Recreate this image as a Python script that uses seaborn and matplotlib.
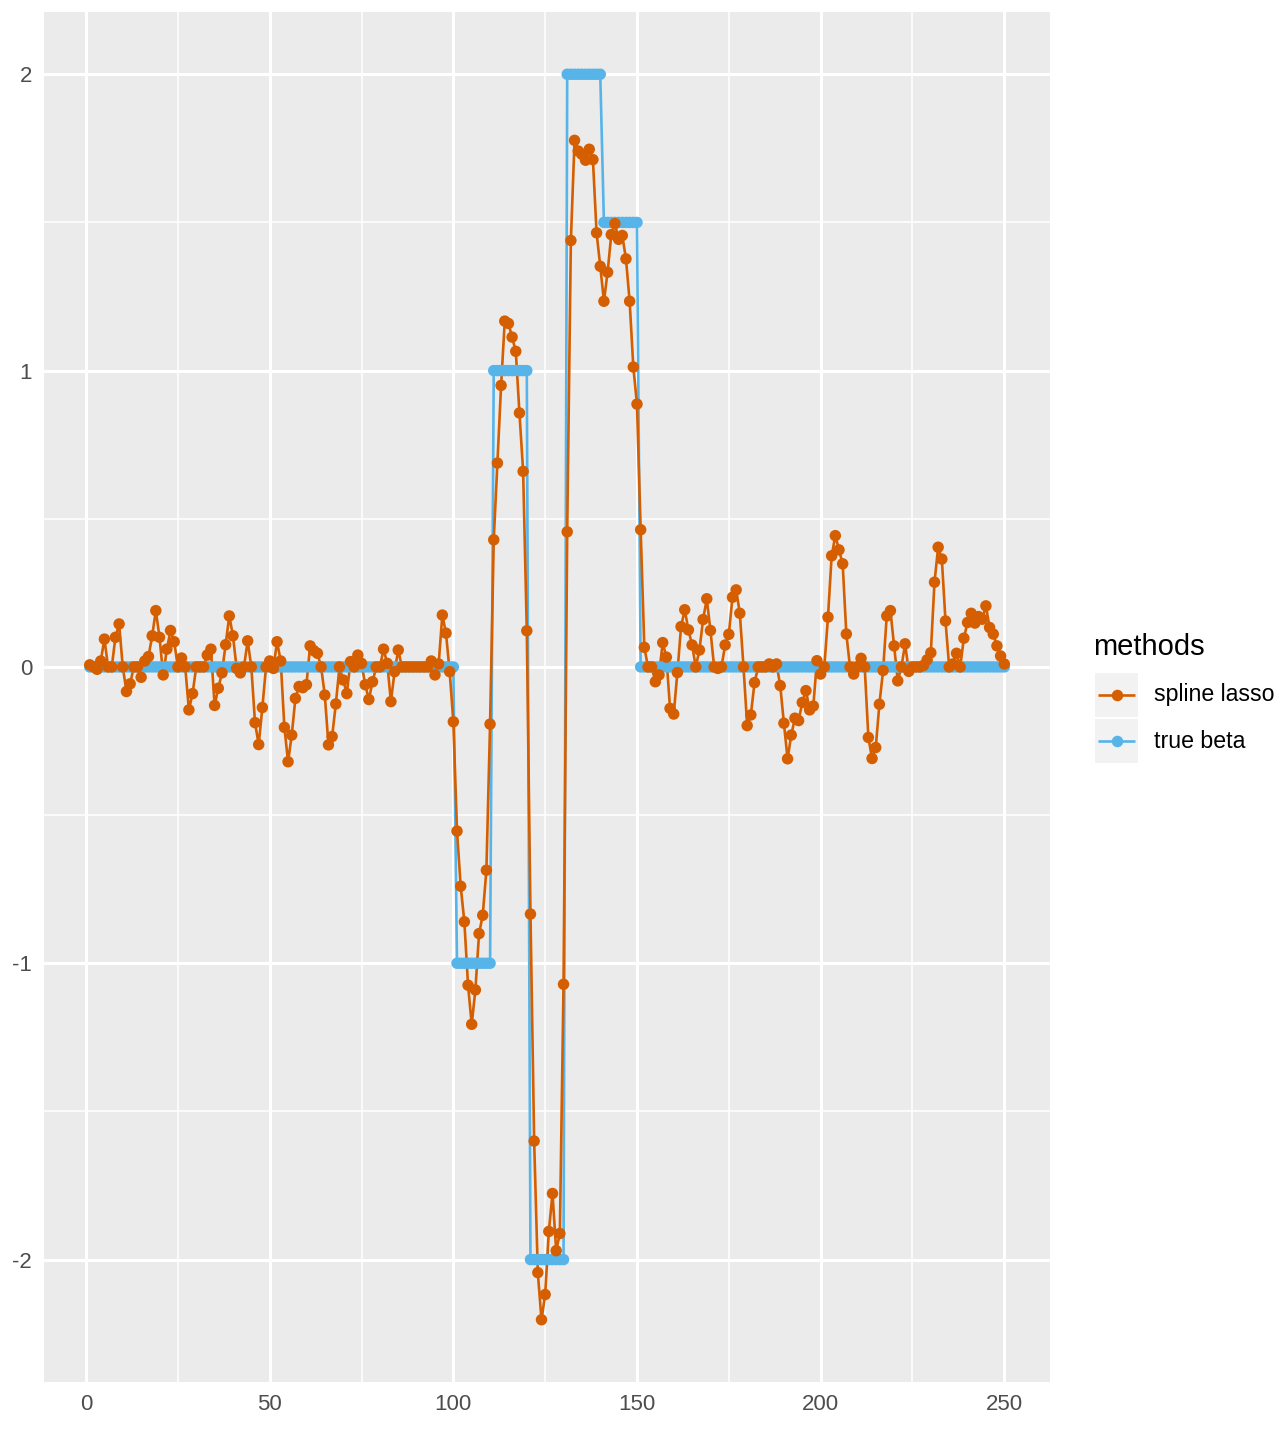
import numpy as np
import pandas as pd
import matplotlib.pyplot as plt
import seaborn as sns
from matplotlib.patches import Rectangle
from matplotlib.lines import Line2D
from matplotlib.ticker import MultipleLocator

index = np.arange(1, 251)

# true coefficients: piecewise constant blocks
beta_levels = [0, -1, 1, -2, 2, 1.5, 0]
beta_lengths = [100, 10, 10, 10, 10, 10, 100]
true_beta = np.repeat(beta_levels, beta_lengths)

spline_lasso = [
    0.007, 0.0, -0.008, 0.02, 0.094, 0.0, 0.0, 0.10, 0.145, 0.0,
    -0.083, -0.057, 0.0, 0.0, -0.035, 0.02, 0.035, 0.105, 0.19, 0.10,
    -0.027, 0.06, 0.123, 0.085, 0.0, 0.03, 0.0, -0.145, -0.09, 0.0,
    0.0, 0.0, 0.04, 0.06, -0.13, -0.072, -0.02, 0.075, 0.172, 0.105,
    -0.005, -0.02, 0.0, 0.088, 0.0, -0.188, -0.262, -0.137, 0.0, 0.02,
    -0.005, 0.085, 0.02, -0.204, -0.32, -0.23, -0.106, -0.066, -0.07, -0.06,
    0.071, 0.055, 0.046, 0.0, -0.095, -0.263, -0.235, -0.125, 0.0, -0.044,
    -0.09, 0.018, 0.0, 0.04, 0.012, -0.06, -0.11, -0.05, 0.0, 0.0,
    0.06, 0.012, -0.117, -0.016, 0.057, 0.0, 0.0, 0.0, 0.0, 0.0,
    0.0, 0.0, 0.0, 0.02, -0.027, 0.01, 0.175, 0.114, -0.016, -0.185,
    -0.554, -0.74, -0.86, -1.074, -1.206, -1.09, -0.90, -0.838, -0.686, -0.193,
    0.429, 0.688, 0.95, 1.167, 1.159, 1.113, 1.065, 0.857, 0.66, 0.122,
    -0.834, -1.60, -2.044, -2.203, -2.118, -1.905, -1.777, -1.970, -1.912, -1.071,
    0.456, 1.439, 1.777, 1.741, 1.73, 1.71, 1.747, 1.712, 1.465, 1.352,
    1.234, 1.332, 1.459, 1.496, 1.443, 1.456, 1.377, 1.234, 1.012, 0.887,
    0.463, 0.066, 0.0, 0.0, -0.05, -0.027, 0.082, 0.033, -0.14, -0.159,
    -0.019, 0.136, 0.193, 0.125, 0.074, 0.0, 0.057, 0.16, 0.23, 0.123,
    0.0, -0.005, 0.0, 0.074, 0.11, 0.235, 0.26, 0.181, 0.0, -0.198,
    -0.162, -0.053, 0.0, 0.0, 0.0, 0.01, 0.0, 0.01, -0.063, -0.19,
    -0.31, -0.23, -0.173, -0.181, -0.12, -0.08, -0.145, -0.132, 0.021, -0.024,
    0.0, 0.168, 0.375, 0.443, 0.395, 0.348, 0.111, 0.0, -0.024, 0.0,
    0.029, 0.0, -0.238, -0.309, -0.272, -0.126, -0.012, 0.172, 0.19, 0.071,
    -0.047, 0.0, 0.078, -0.015, 0.0, 0.0, 0.0, 0.005, 0.024, 0.048,
    0.286, 0.404, 0.364, 0.155, 0.0, 0.01, 0.046, 0.0, 0.097, 0.15,
    0.181, 0.148, 0.17, 0.161, 0.206, 0.133, 0.111, 0.071, 0.037, 0.01,
]

methods = ["spline lasso", "true beta"]
colors = {"spline lasso": "#D55E00", "true beta": "#56B4E9"}

df = pd.concat([
    pd.DataFrame({"index": index, "value": true_beta, "methods": "true beta"}),
    pd.DataFrame({"index": index, "value": spline_lasso, "methods": "spline lasso"}),
], ignore_index=True)

sns.set_theme(style="darkgrid", rc={
    "axes.facecolor": "#EBEBEB",
    "grid.color": "white",
    "axes.unicode_minus": False,
})
plt.rcParams["font.family"] = ["Liberation Sans", "DejaVu Sans"]

W, H = 1288, 1432
fig = plt.figure(figsize=(W / 100, H / 100), dpi=100)
pl, pr, pt, pb = 44, 1050, 12, 1382
ax = fig.add_axes([pl / W, 1 - pb / H, (pr - pl) / W, (pb - pt) / H])

# lines under points, like geom_line + geom_point
sns.lineplot(data=df, x="index", y="value", hue="methods",
             hue_order=["true beta", "spline lasso"], palette=colors,
             estimator=None, sort=False, linewidth=1.9, legend=False, ax=ax)
sns.scatterplot(data=df, x="index", y="value", hue="methods", palette=colors,
                s=68, linewidth=0, legend=False, ax=ax, zorder=3)

xr = index.max() - index.min()
ax.set_xlim(index.min() - 0.05 * xr, index.max() + 0.05 * xr)
vals = df["value"]
yr = vals.max() - vals.min()
ax.set_ylim(vals.min() - 0.05 * yr, vals.max() + 0.05 * yr)

ax.xaxis.set_major_locator(MultipleLocator(50))
ax.xaxis.set_minor_locator(MultipleLocator(25))
ax.yaxis.set_major_locator(MultipleLocator(1))
ax.yaxis.set_minor_locator(MultipleLocator(0.5))
ax.grid(which="major", color="white", linewidth=2.2)
ax.grid(which="minor", color="white", linewidth=1.1)
ax.set_axisbelow(True)
for s in ax.spines.values():
    s.set_visible(False)
ax.tick_params(which="major", length=5, width=2.0, color="#333333",
               labelsize=16, labelcolor="#4D4D4D", pad=3.6)
ax.tick_params(which="minor", length=0)
ax.set_xlabel("")
ax.set_ylabel("")

# legend drawn in pixel space to the right of the panel
lg = fig.add_axes([1080 / W, 1 - 780 / H, 208 / W, 160 / H])
lg.set_xlim(1080, 1288)
lg.set_ylim(780, 620)
lg.axis("off")
lg.text(1093, 655, "methods", fontsize=21, color="black", va="baseline", ha="left")
for k, m in enumerate(methods):
    y0 = 673 + k * 46
    lg.add_patch(Rectangle((1095, y0), 43, 44, facecolor="#F2F2F2", edgecolor="none"))
    lg.add_line(Line2D([1098, 1135], [y0 + 22, y0 + 22], color=colors[m], linewidth=1.9,
                       solid_capstyle="butt"))
    lg.plot([1116.5], [y0 + 22], "o", color=colors[m], markersize=8.3, markeredgewidth=0)
    lg.text(1154, y0 + 22, m, fontsize=16.7, color="black", va="center", ha="left")

fig.savefig("out.png", dpi=100)
